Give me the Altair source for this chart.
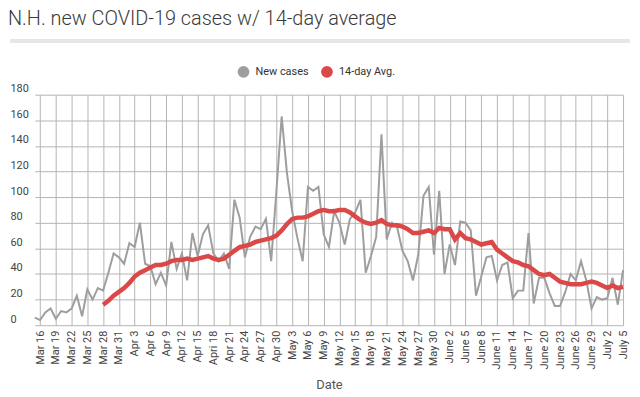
import altair as alt
import pandas as pd

# Day 0 = Mar 15; one value per day through July 5
new_cases = [6, 4, 10, 13, 5, 11, 10, 13, 23, 7,
             28, 20, 29, 27, 41, 56, 53, 48, 64, 61,
             80, 48, 46, 32, 41, 31, 65, 44, 56, 35,
             72, 54, 71, 78, 56, 50, 56, 44, 98, 84,
             53, 69, 77, 75, 83, 50, 105, 163, 119, 89,
             68, 50, 108, 105, 108, 71, 61, 89, 80, 63,
             83, 88, 98, 41, 54, 69, 149, 67, 80, 76,
             58, 50, 35, 55, 101, 108, 55, 105, 40, 63,
             47, 81, 80, 74, 23, 38, 53, 54, 35, 47,
             49, 21, 27, 27, 72, 17, 37, 37, 25, 15,
             15, 26, 40, 35, 50, 35, 13, 22, 20, 21,
             37, 16, 43]

avg_14 = [None] * 13 + [
    16, 19, 23, 26, 29, 33, 38,
    41, 43, 45, 47, 47, 48, 50, 51, 51, 52,
    51, 52, 53, 54, 52, 51, 52, 55, 58, 61,
    62, 63, 65, 66, 67, 68, 70, 74, 79, 83,
    84, 84, 85, 87, 89, 90, 89, 89, 90, 90,
    88, 85, 82, 80, 79, 80, 82, 79, 78, 78,
    77, 75, 72, 72, 73, 74, 72, 76, 75, 75,
    67, 72, 68, 67, 65, 63, 64, 65, 59, 56,
    53, 50, 49, 47, 46, 43, 40, 39, 40, 37,
    34, 33, 32, 32, 32, 33, 34, 33, 31, 29,
    31, 29, 30]

tick_labels = ["Mar 16", "Mar 19", "Mar 22", "Mar 25", "Mar 28", "Mar 31",
               "Apr 3", "Apr 6", "Apr 9", "Apr 12", "Apr 15", "Apri 18",
               "Apr 21", "Apr 24", "Apr 27", "Apr 30", "May 3", "May 6",
               "May 9", "May 12", "May 15", "May 18", "May 21", "May 24",
               "May 27", "May 30", "June 2", "June 5", "June 8", "June 11",
               "June 14", "June 17", "June 20", "June 23", "June 26", "June 29",
               "July 2", "July 5"]

series_names = ["New cases", "14-day Avg."]
series_colors = ["#9e9e9e", "#db4848"]

n = len(new_cases)
tick_days = [1 + 3 * k for k in range(len(tick_labels))]

df = pd.DataFrame({"day": list(range(n)), "New cases": new_cases, "14-day Avg.": avg_14})
long = df.melt("day", var_name="series", value_name="value").dropna()

label_expr = "[" + ",".join('"%s"' % t for t in tick_labels) + "][round((datum.value-1)/3)]"

FONT = "Roboto"

x_enc = alt.X("day:Q",
              scale=alt.Scale(domain=[0, n - 1], nice=False, zero=False),
              axis=alt.Axis(values=tick_days, labelExpr=label_expr, labelAngle=270,
                            labelFont=FONT, labelFontSize=11, labelColor="#444",
                            labelPadding=5, ticks=False, domain=False,
                            grid=True, gridColor="#b4b4b4", gridWidth=1,
                            title="Date", titleFont=FONT, titleFontSize=13,
                            titleFontWeight="normal", titleColor="#555", titlePadding=10))
y_enc = alt.Y("value:Q",
              scale=alt.Scale(domain=[0, 180], nice=False),
              axis=alt.Axis(values=list(range(0, 181, 20)), labelAlign="left",
                            labelBaseline="alphabetic", labelOffset=-3, labelPadding=25,
                            ticks=False, tickSize=0, domain=False,
                            labelFont=FONT, labelFontSize=11, labelColor="#444",
                            gridColor="#b4b4b4", gridWidth=1, title=None))

base = alt.Chart(long)

grey = base.transform_filter(alt.datum.series == "New cases").mark_line(
    color=series_colors[0], strokeWidth=2).encode(x=x_enc, y=y_enc)

red = base.transform_filter(alt.datum.series == "14-day Avg.").mark_line(
    color=series_colors[1], strokeWidth=4.5).encode(x=x_enc, y=y_enc)

legend_pts = base.transform_filter("datum.value < 0").mark_point(filled=True).encode(
    x=x_enc, y=y_enc,
    fill=alt.Fill("series:N",
                  scale=alt.Scale(domain=series_names, range=series_colors),
                  legend=alt.Legend(orient="none", legendX=204, legendY=-29,
                                    direction="horizontal", title=None,
                                    symbolType="circle", symbolSize=140,
                                    symbolStrokeWidth=0, symbolOpacity=1,
                                    labelFont=FONT, labelFontSize=11, labelColor="#333",
                                    labelOffset=6, columnPadding=12)))

sep = alt.Chart(pd.DataFrame({"k": [0]})).mark_rule(
    color="#e6e6e6", strokeWidth=4).encode(
    x=alt.value(-25), x2=alt.value(599), y=alt.value(-54))

chart = alt.layer(sep, grey, red, legend_pts).properties(
    width=592, height=232,
    padding={"left": 0, "top": 0, "right": 0, "bottom": 0},
    title=alt.TitleParams("N.H. new COVID-19 cases w/ 14-day average",
                          anchor="start", frame="bounds", font=FONT,
                          fontSize=20, fontWeight=300, color="#3a3a3a",
                          offset=10)
).configure_view(stroke=None)

chart.save("out.html", embed_options={"renderer": "svg", "actions": False})
